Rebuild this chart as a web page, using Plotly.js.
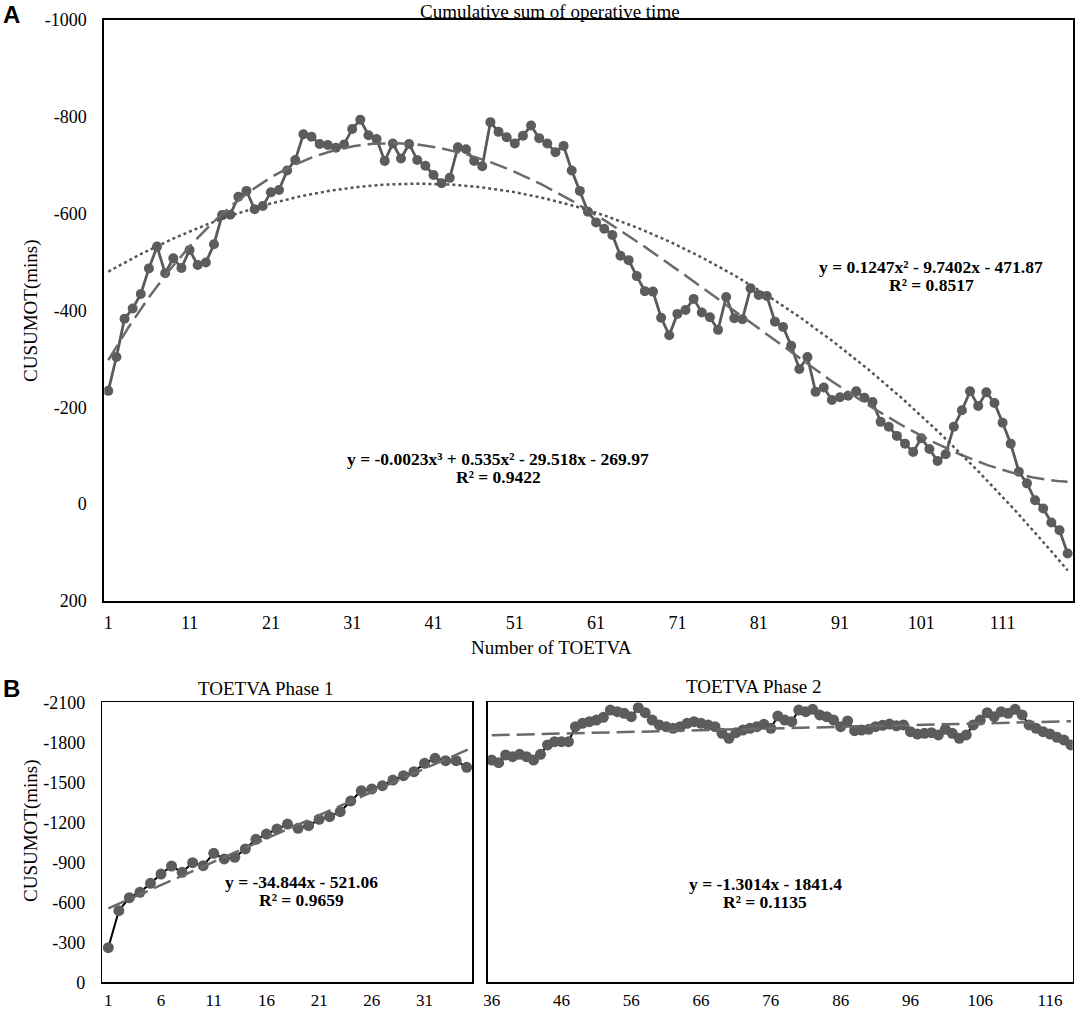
<!DOCTYPE html>
<html><head><meta charset="utf-8">
<script src="https://cdn.plot.ly/plotly-3.0.1.min.js"></script>
<style>html,body{margin:0;padding:0;background:#fff}</style>
</head><body><div id="chart" style="width:1076px;height:1013px"></div>
<script>
// ---------- DATA ----------
// Panel A: CUSUM of operative time, all cases (1..119)
const cusumAll = [
 -234,-304,-383,-404,-434,-487,-532,-477,-508,-488,
 -525,-494,-499,-537,-597,-598,-635,-647,-609,-616,
 -644,-649,-689,-711,-764,-759,-744,-742,-736,-743,
 -775,-794,-762,-754,-709,-745,-714,-744,-711,-699,
 -680,-663,-674,-737,-733,-709,-698,-789,-769,-758,
 -745,-761,-782,-756,-745,-727,-740,-689,-647,-604,
 -582,-569,-556,-513,-504,-471,-440,-439,-385,-349,
 -393,-401,-424,-396,-386,-360,-428,-384,-382,-446,
 -432,-430,-377,-366,-327,-279,-304,-232,-241,-215,
 -221,-224,-233,-220,-211,-170,-160,-141,-125,-108,
 -136,-114,-89,-103,-160,-194,-233,-203,-231,-209,
 -168,-125,-67,-43,-8,9,38,54,102
];
// Panel B: phase 1 (cases 1..35)
const cusumPhase1 = [
 -260,-537,-635,-675,-742,-812,-872,-825,-897,-875,
 -967,-925,-937,-1000,-1072,-1112,-1150,-1187,-1155,-1175,
 -1222,-1242,-1280,-1360,-1437,-1450,-1475,-1517,-1550,-1580,
 -1642,-1680,-1662,-1662,-1612
];
// Panel B: phase 2 (cases 36..119)
const cusumPhase2 = [
 -1667,-1647,-1705,-1692,-1710,-1692,-1667,-1710,-1780,-1805,
 -1805,-1805,-1917,-1942,-1955,-1967,-1987,-2042,-2030,-2017,
 -1992,-2060,-2022,-1967,-1930,-1917,-1905,-1917,-1942,-1955,
 -1942,-1930,-1917,-1867,-1830,-1872,-1892,-1905,-1917,-1935,
 -1905,-1997,-1967,-1955,-2042,-2030,-2047,-2005,-1992,-1967,
 -1917,-1960,-1887,-1892,-1897,-1917,-1927,-1937,-1924,-1930,
 -1880,-1862,-1867,-1872,-1855,-1897,-1867,-1830,-1855,-1930,
 -1967,-2022,-1992,-2030,-2017,-2047,-2005,-1930,-1905,-1880,
 -1862,-1837,-1817,-1780
];
const phase1Start = 1;
const phase2Start = 36;

const topXTicks = [1,11,21,31,41,51,61,71,81,91,101,111];
const topYTicks = [-1000,-800,-600,-400,-200,0,200];
const topYTickLabels = ["-1000","-800","-600","-400","-200","0","200"];
const p1XTicks = [1,6,11,16,21,26,31];
const p2XTicks = [36,46,56,66,76,86,96,106,116];
const botYTicks = [-2100,-1800,-1500,-1200,-900,-600,-300,0];
const botYTickLabels = ["-2100","-1800","-1500","-1200","-900","-600","-300","0"];

const titleA = "Cumulative sum of operative time";
const xTitleA = "Number of TOETVA";
const yTitle = "CUSUMOT(mins)";
const titleP1 = "TOETVA Phase 1";
const titleP2 = "TOETVA Phase 2";
const eqQuad = ["y = 0.1247x² - 9.7402x - 471.87", "R² = 0.8517"];
const eqCubic = ["y = -0.0023x³ + 0.535x² - 29.518x - 269.97", "R² = 0.9422"];
const eqP1 = ["y = -34.844x - 521.06", "R² = 0.9659"];
const eqP2 = ["y = -1.3014x - 1841.4", "R² = 0.1135"];

// ---------- helpers ----------
const W = 1076, H = 1013;
const px = x => x / W;
const py = y => 1 - y / H;

function polyfit(xs, ys, deg) {
  const lo = Math.min(...xs), hi = Math.max(...xs);
  const m = (lo + hi) / 2, s = (hi - lo) / 2 || 1;
  const n = deg + 1;
  const A = Array.from({length: n}, () => new Array(n).fill(0));
  const b = new Array(n).fill(0);
  xs.forEach((x, k) => {
    const t = (x - m) / s;
    for (let i = 0; i < n; i++) {
      b[i] += ys[k] * Math.pow(t, i);
      for (let j = 0; j < n; j++) A[i][j] += Math.pow(t, i + j);
    }
  });
  for (let c = 0; c < n; c++) {
    let p = c;
    for (let r = c + 1; r < n; r++) if (Math.abs(A[r][c]) > Math.abs(A[p][c])) p = r;
    [A[c], A[p]] = [A[p], A[c]]; [b[c], b[p]] = [b[p], b[c]];
    for (let r = c + 1; r < n; r++) {
      const f = A[r][c] / A[c][c];
      for (let j = c; j < n; j++) A[r][j] -= f * A[c][j];
      b[r] -= f * b[c];
    }
  }
  const coef = new Array(n).fill(0);
  for (let r = n - 1; r >= 0; r--) {
    let v = b[r];
    for (let j = r + 1; j < n; j++) v -= A[r][j] * coef[j];
    coef[r] = v / A[r][r];
  }
  return x => { const t = (x - m) / s; return coef.reduce((acc, c, i) => acc + c * Math.pow(t, i), 0); };
}
function trendTrace(xs, ys, deg, x0, x1, dash, color, xa, ya) {
  const f = polyfit(xs, ys, deg);
  const tx = [], ty = [];
  for (let x = x0; x <= x1 + 1e-9; x += 0.25) { tx.push(x); ty.push(f(x)); }
  return {x: tx, y: ty, mode: 'lines', xaxis: xa, yaxis: ya, hoverinfo: 'skip',
          line: {color: color, width: 2.5, dash: dash}, showlegend: false};
}

const xAll = cusumAll.map((_, i) => i + 1);
const xP1 = cusumPhase1.map((_, i) => phase1Start + i);
const xP2 = cusumPhase2.map((_, i) => phase2Start + i);

const markerGray = '#5c5c5c';
const traces = [
  {x: xAll, y: cusumAll, mode: 'lines+markers', xaxis: 'x', yaxis: 'y',
   line: {color: '#5a5a5a', width: 2.8}, marker: {color: markerGray, size: 10}, showlegend: false},
  trendTrace(xAll, cusumAll, 3, 1, xAll[xAll.length - 1], '18px,7px', '#6a6a6a', 'x', 'y'),
  trendTrace(xAll, cusumAll, 2, 1, xAll[xAll.length - 1], 'dot', '#555555', 'x', 'y'),
  {x: xP1, y: cusumPhase1, mode: 'lines+markers', xaxis: 'x2', yaxis: 'y2',
   line: {color: '#000000', width: 2}, marker: {color: markerGray, size: 11}, showlegend: false},
  trendTrace(xP1, cusumPhase1, 1, xP1[0], xP1[xP1.length - 1] + 0.5, '18px,7px', '#6a6a6a', 'x2', 'y2'),
  {x: xP2, y: cusumPhase2, mode: 'lines+markers', xaxis: 'x3', yaxis: 'y3',
   line: {color: '#000000', width: 2}, marker: {color: markerGray, size: 11}, showlegend: false},
  trendTrace(xP2, cusumPhase2, 1, xP2[0], xP2[xP2.length - 1], '18px,7px', '#6a6a6a', 'x3', 'y3')
];

const serif = 'Liberation Serif, Times New Roman, serif';
const tickFont = {family: serif, size: 18, color: '#000'};
const botTickFont = {family: serif, size: 17, color: '#000'};
const baseX = {showline: true, mirror: true, linecolor: '#000', showgrid: false, zeroline: false,
  ticks: 'outside', tickcolor: 'rgba(0,0,0,0)', tickfont: tickFont, fixedrange: true};
const baseY = {showline: true, mirror: true, linecolor: '#000', showgrid: false, zeroline: false,
  ticks: 'outside', ticklen: 12, tickcolor: 'rgba(0,0,0,0)', tickfont: tickFont, fixedrange: true};

function txt(text, x, y, size, opts) {
  return Object.assign({text: text, x: px(x), y: py(y), xref: 'paper', yref: 'paper',
    xanchor: 'center', yanchor: 'middle', showarrow: false,
    font: {family: serif, size: size, color: '#000'}}, opts || {});
}
const bold = s => '<b>' + s + '</b>';
const eqSize = 17.5;

const annotations = [
  txt(titleA, 550, 0, 19, {yanchor: 'top', borderpad: 0}),
  txt(xTitleA, 551, 647, 19),
  txt(yTitle, 31, 311, 19, {textangle: -90}),
  txt(yTitle, 31, 831, 19, {textangle: -90}),
  txt(titleP1, 265, 688, 19),
  txt(titleP2, 753, 686, 19),
  txt(bold('A'), 11, 15, 24, {font: {family: 'Liberation Sans, Arial, sans-serif', size: 24, color: '#000'}}),
  txt(bold('B'), 11, 688, 24, {font: {family: 'Liberation Sans, Arial, sans-serif', size: 24, color: '#000'}}),
  txt(bold(eqQuad[0]), 931, 267, eqSize),
  txt(bold(eqQuad[1]), 931, 285, eqSize),
  txt(bold(eqCubic[0]), 498, 459, eqSize),
  txt(bold(eqCubic[1]), 498, 477, eqSize),
  txt(bold(eqP1[0]), 301, 882, eqSize),
  txt(bold(eqP1[1]), 301, 900, eqSize),
  txt(bold(eqP2[0]), 765, 884, eqSize),
  txt(bold(eqP2[1]), 765, 902, eqSize)
];

const layout = {
  width: W, height: H, margin: {l: 0, r: 0, t: 0, b: 0},
  paper_bgcolor: '#fff', plot_bgcolor: '#fff', showlegend: false,
  xaxis: Object.assign({}, baseX, {domain: [px(104.3), px(1073)], anchor: 'y', range: [0.51, 119.66],
    tickmode: 'array', tickvals: topXTicks, ticklen: 4, linewidth: 2}),
  yaxis: Object.assign({}, baseY, {domain: [py(601), py(20)], anchor: 'x', range: [200, -1000],
    tickmode: 'array', tickvals: topYTicks, ticktext: topYTickLabels, linewidth: 2}),
  xaxis2: Object.assign({}, baseX, {domain: [px(102.3), px(472.3)], anchor: 'y2', range: [0.43, 35.53],
    tickmode: 'array', tickvals: p1XTicks, ticklen: 2, tickfont: botTickFont, linewidth: 1.5}),
  yaxis2: Object.assign({}, baseY, {domain: [py(982.3), py(702.3)], anchor: 'x2', range: [0, -2100],
    tickmode: 'array', tickvals: botYTicks, ticktext: botYTickLabels, linewidth: 1.5}),
  xaxis3: Object.assign({}, baseX, {domain: [px(487.7), px(1072.7)], anchor: 'y3', range: [35.43, 119.25],
    tickmode: 'array', tickvals: p2XTicks, ticklen: 2, tickfont: botTickFont, linewidth: 1.5}),
  yaxis3: Object.assign({}, baseY, {domain: [py(982.3), py(702.3)], anchor: 'x3', range: [0, -2100],
    showticklabels: false, linewidth: 1.5}),
  annotations: annotations
};

Plotly.newPlot('chart', traces, layout, {displayModeBar: false, staticPlot: true});
</script>
</body></html>
